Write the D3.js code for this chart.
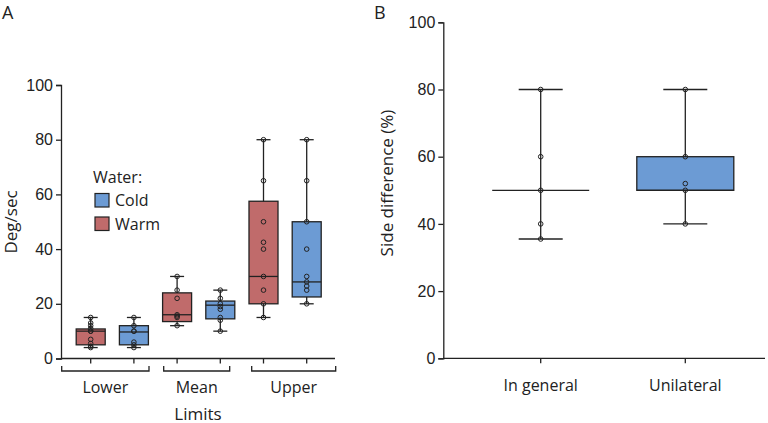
<!DOCTYPE html>
<html><head><meta charset="utf-8">
<script src="https://cdn.jsdelivr.net/npm/d3@7"></script>
<style>body{margin:0;background:#fff}svg{display:block;font-family:"Open Sans",sans-serif}</style>
</head><body><svg id="c" width="768" height="423"></svg>
<script>
// ---- Panel A data ----
const limits = ["Lower", "Mean", "Upper"];
const waters = ["Warm", "Cold"];
const legendOrder = ["Cold", "Warm"];
const yTicksA = [0, 20, 40, 60, 80, 100];
// [q1, median, q3, whiskerLow, whiskerHigh]
const warmStats = [[5, 10, 10.8, 4, 15], [13.5, 16, 24, 12, 30], [20, 30, 57.5, 15, 80]];
const coldStats = [[5, 9.7, 12, 4, 15], [14.5, 19.5, 21, 10, 25], [22.5, 28, 50, 20, 80]];
const warmPoints = [[4, 4.5, 5.5, 7, 10, 10, 11, 12, 13, 15], [12, 15, 15.5, 16, 22, 25, 30], [15, 20, 25, 30, 40, 42.5, 50, 65, 80]];
const coldPoints = [[4, 5, 6, 10, 10, 12, 15], [10, 14, 15, 18, 19, 20, 22, 25], [20, 25, 26.5, 28, 30, 40, 50, 65, 80]];
// ---- Panel B data ----
const groupsB = ["In general", "Unilateral"];
const yTicksB = [0, 20, 40, 60, 80, 100];
const statsB = [[50, 50, 50, 35.5, 80], [50, 50, 60, 40, 80]];
const pointsB = [[35.5, 40, 50, 60, 80], [40, 50, 52, 60, 80]];

const colors = {Warm: "#c06b6b", Cold: "#6c9bd4"};
const svg = d3.select("#c");
const ink = "#222";

function drawBox(g, x, w, capW, s, pts, fill, y, showBox) {
  const [q1, med, q3, lo, hi] = s;
  g.append("line").attr("x1", x).attr("x2", x).attr("y1", y(lo)).attr("y2", y(hi)).attr("stroke", ink).attr("stroke-width", 1.3);
  [lo, hi].forEach(v => g.append("line").attr("x1", x - capW / 2).attr("x2", x + capW / 2).attr("y1", y(v)).attr("y2", y(v)).attr("stroke", ink).attr("stroke-width", 1.3));
  if (showBox) {
    g.append("rect").attr("x", x - w / 2).attr("width", w).attr("y", y(q3)).attr("height", y(q1) - y(q3))
      .attr("fill", fill).attr("stroke", ink).attr("stroke-width", 1.3);
  }
  g.append("line").attr("x1", x - w / 2).attr("x2", x + w / 2).attr("y1", y(med)).attr("y2", y(med)).attr("stroke", ink).attr("stroke-width", 1.3);
  pts.forEach(v => g.append("circle").attr("cx", x).attr("cy", y(v)).attr("r", 2.3).attr("fill", "none").attr("stroke", ink).attr("stroke-width", 1));
}

// ---- Panel A ----
const yA = d3.scaleLinear().domain([0, 100]).range([358.5, 85]);
const gA = svg.append("g");
const axA = gA.append("g").attr("transform", "translate(61,0)").call(d3.axisLeft(yA).tickValues(yTicksA).tickSize(5).tickPadding(3));
axA.selectAll("text").attr("font-size", 16).attr("fill", ink);
axA.select(".domain").attr("stroke", ink).attr("stroke-width", 1.3);
axA.selectAll(".tick line").attr("stroke", ink).attr("stroke-width", 1.3);
gA.append("line").attr("x1", 61).attr("x2", 335).attr("y1", yA(0)).attr("y2", yA(0)).attr("stroke", ink).attr("stroke-width", 1.3);

limits.forEach((l, i) => {
  waters.forEach((w, j) => {
    const cx = 90.7 + (i * 2 + j) * 43.2;
    gA.append("line").attr("x1", cx).attr("x2", cx).attr("y1", yA(0)).attr("y2", yA(0) + 5).attr("stroke", ink).attr("stroke-width", 1.3);
    const s = (w === "Warm" ? warmStats : coldStats)[i];
    const p = (w === "Warm" ? warmPoints : coldPoints)[i];
    drawBox(gA, cx, 29, 14, s, p, colors[w], yA, true);
  });
});
// brackets
const brackets = [[61.7, 149], [163.7, 229.7], [251.7, 335.7]];
limits.forEach((l, i) => {
  const [a, b] = brackets[i];
  gA.append("path").attr("d", `M${a},366V371H${b}V366`).attr("fill", "none").attr("stroke", ink).attr("stroke-width", 1.3);
  gA.append("text").attr("x", (a + b) / 2).attr("y", 393).attr("text-anchor", "middle").attr("font-size", 16).attr("fill", ink).text(l);
});
gA.append("text").attr("x", 198).attr("y", 419.5).attr("text-anchor", "middle").attr("font-size", 17).attr("fill", ink).text("Limits");
gA.append("text").attr("transform", "translate(17,222) rotate(-90)").attr("text-anchor", "middle").attr("font-size", 17).attr("fill", ink).text("Deg/sec");
gA.append("text").attr("x", 2).attr("y", 19).attr("font-size", 18).attr("fill", ink).text("A");
// legend
gA.append("text").attr("x", 93).attr("y", 183).attr("font-size", 16).attr("fill", ink).text("Water:");
legendOrder.forEach((w, i) => {
  const yy = 193.5 + i * 23.5;
  gA.append("rect").attr("x", 95).attr("y", yy).attr("width", 14).attr("height", 13.5).attr("fill", colors[w]).attr("stroke", ink).attr("stroke-width", 1.2);
  gA.append("text").attr("x", 115).attr("y", yy + 12.5).attr("font-size", 16).attr("fill", ink).text(w);
});

// ---- Panel B ----
const yB = d3.scaleLinear().domain([0, 100]).range([358.3, 22.3]);
const xB = d3.scalePoint().domain(groupsB).range([540.7, 685.3]);
const gB = svg.append("g");
const axB = gB.append("g").attr("transform", "translate(443.3,0)").call(d3.axisLeft(yB).tickValues(yTicksB).tickSize(5).tickPadding(3));
axB.selectAll("text").attr("font-size", 16).attr("fill", ink);
axB.select(".domain").attr("stroke", ink).attr("stroke-width", 1.3);
axB.selectAll(".tick line").attr("stroke", ink).attr("stroke-width", 1.3);
gB.append("line").attr("x1", 443.3).attr("x2", 765).attr("y1", yB(0)).attr("y2", yB(0)).attr("stroke", ink).attr("stroke-width", 1.3);
groupsB.forEach((gname, i) => {
  const cx = xB(gname);
  gB.append("line").attr("x1", cx).attr("x2", cx).attr("y1", yB(0)).attr("y2", yB(0) + 5).attr("stroke", ink).attr("stroke-width", 1.3);
  drawBox(gB, cx, 97, 44, statsB[i], pointsB[i], colors.Cold, yB, statsB[i][2] > statsB[i][0]);
  gB.append("text").attr("x", cx).attr("y", 391).attr("text-anchor", "middle").attr("font-size", 16).attr("fill", ink).text(gname);
});
gB.append("text").attr("transform", "translate(393,183) rotate(-90)").attr("text-anchor", "middle").attr("font-size", 17).attr("fill", ink).text("Side difference (%)");
gB.append("text").attr("x", 374).attr("y", 19).attr("font-size", 18).attr("fill", ink).text("B");
</script></body></html>
